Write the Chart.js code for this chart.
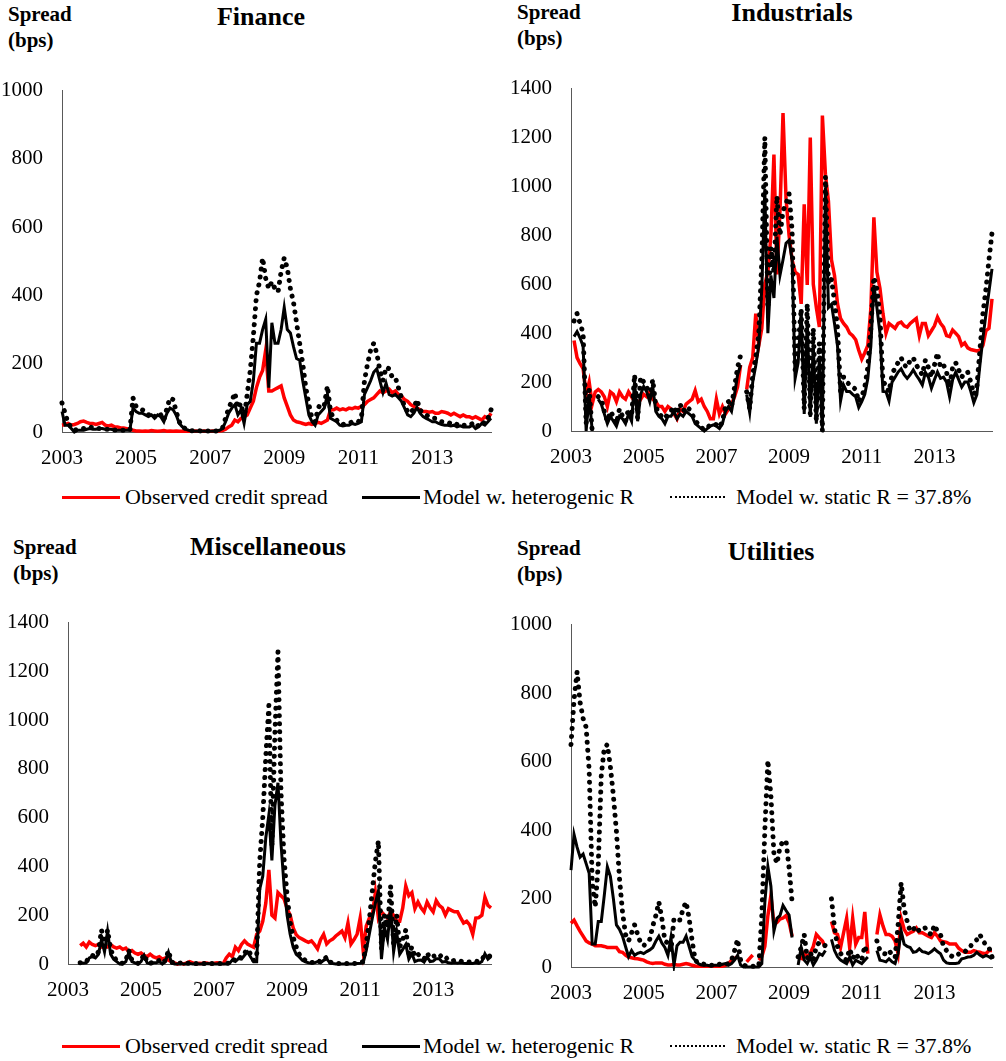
<!DOCTYPE html>
<html>
<head>
<meta charset="utf-8">
<script src="https://cdn.jsdelivr.net/npm/chart.js@4.4.0/dist/chart.umd.min.js"></script>
<style>
  body { margin: 0; background: #fff; width: 1006px; height: 1061px; position: relative; overflow: hidden;
         font-family: "Liberation Serif", "Times New Roman", serif; color: #000; }
  canvas { position: absolute; }
  .ylab { position: absolute; font-weight: bold; font-size: 21px; line-height: 26px; }
  .title { position: absolute; font-weight: bold; font-size: 26px; line-height: 30px; transform: translateX(-50%); white-space: nowrap; }
  .legend { position: absolute; left: 0; width: 1006px; height: 24px; font-size: 22px; }
  .legend span { position: absolute; top: 0; line-height: 24px; white-space: nowrap; }
  .legend i { position: absolute; top: 11px; height: 0; }
</style>
</head>
<body>

<div class="ylab" style="left:8px; top:1px;">Spread<br>(bps)</div>
<div class="title" style="left:261px; top:2px;">Finance</div>
<div class="ylab" style="left:517px; top:-1px;">Spread<br>(bps)</div>
<div class="title" style="left:792px; top:-2px;">Industrials</div>
<div class="ylab" style="left:13px; top:534px;">Spread<br>(bps)</div>
<div class="title" style="left:268px; top:532px;">Miscellaneous</div>
<div class="ylab" style="left:517px; top:535px;">Spread<br>(bps)</div>
<div class="title" style="left:771px; top:537px;">Utilities</div>

<canvas id="fin"></canvas>
<canvas id="ind"></canvas>
<canvas id="mis"></canvas>
<canvas id="uti"></canvas>

<div class="legend" style="top:485px;">
  <i style="left:62px; width:58px; border-top:3px solid #ff0000;"></i><span style="left:125px;">Observed credit spread</span>
  <i style="left:362px; width:58px; border-top:3px solid #000;"></i><span style="left:423px;">Model w. heterogenic R</span>
  <i style="left:670px; width:55px; border-top:2px dotted #000;"></i><span style="left:736px;">Model w. static R = 37.8%</span>
</div>
<div class="legend" style="top:1034px;">
  <i style="left:62px; width:58px; border-top:3px solid #ff0000;"></i><span style="left:125px;">Observed credit spread</span>
  <i style="left:362px; width:58px; border-top:3px solid #000;"></i><span style="left:423px;">Model w. heterogenic R</span>
  <i style="left:670px; width:55px; border-top:2px dotted #000;"></i><span style="left:736px;">Model w. static R = 37.8%</span>
</div>

<script>
"use strict";

// monthly, Jan 2003 .. Aug 2014
const months = [];
for (let i = 0; i < 140; i++) {
    months.push((2003 + Math.floor(i / 12)) + "-" + (i % 12 + 1));
}
const yearTicks = ["2003", "2005", "2007", "2009", "2011", "2013"];
const seriesNames = ["Observed credit spread", "Model w. heterogenic R", "Model w. static R = 37.8%"];

// Finance
const finObs = [
    20, 22, 25, 20, 22, 25, 30, 32, 28, 25, 25, 22,
    25, 28, 20, 18, 20, 15, 15, 12, 12, 10, 8, 5,
    3, 3, 2, 3, 2, 4, 3, 2, 3, 4, 2, 3,
    2, 3, 2, 2, 3, 2, 2, 3, 2, 2, 3, 2,
    2, 3, 2, 3, 4, 8, 15, 20, 35, 30, 40, 45,
    50, 70, 90, 130, 160, 180, 240, 120, 120, 125, 130, 135,
    100, 75, 50, 35, 30, 28, 25, 22, 25, 22, 25, 28,
    25, 30, 35, 65, 65, 70, 65, 68, 65, 70, 68, 72,
    70, 75, 80, 90, 95, 100, 110, 120, 115, 120, 125, 115,
    120, 110, 105, 95, 90, 80, 75, 70, 65, 60, 60, 58,
    60, 55, 55, 60, 58, 55, 50, 55, 50, 45, 50, 45,
    45, 40, 45, 40, 35, 45, 40, 55
];
const finHet = [
    60, 20, 20, 10, 0, 5, 5, 5, 8, 10, 8, 8,
    10, 10, 8, 8, 8, 5, 5, 5, 5, 5, 5, 70,
    60, 55, 55, 50, 45, 50, 40, 50, 45, 30, 55, 70,
    65, 50, 25, 15, 8, 5, 3, 2, 3, 2, 3, 2,
    2, 3, 2, 5, 10, 30, 55, 70, 80, 50, 65, 25,
    80, 90, 150, 260, 260, 300, 330, 130, 320, 260, 260, 300,
    365, 300, 290, 250, 215, 210, 150, 100, 50, 30, 20, 50,
    60, 70, 110, 40, 35, 30, 20, 18, 20, 20, 25, 22,
    25, 30, 110, 130, 150, 175, 185, 150, 115, 143, 110, 105,
    110, 100, 90, 70, 50, 45, 55, 72, 55, 45, 40, 35,
    30, 30, 25, 22, 20, 20, 18, 20, 15, 18, 15, 15,
    15, 20, 10, 15, 25, 20, 30, 40
];
const finSta = [
    85, 55, 25, 15, 5, 8, 10, 10, 12, 15, 12, 10,
    10, 10, 8, 8, 8, 6, 6, 5, 5, 5, 5, 100,
    75, 70, 65, 60, 50, 55, 45, 55, 50, 35, 70, 100,
    95, 60, 30, 15, 10, 5, 4, 3, 4, 3, 4, 3,
    3, 4, 3, 6, 12, 40, 70, 90, 115, 70, 85, 40,
    110, 180, 280, 400, 440, 510, 450, 420, 440, 420, 410, 470,
    510, 480, 420, 380, 320, 260, 200, 130, 80, 40, 30, 70,
    85, 80, 135, 60, 40, 35, 25, 22, 25, 25, 30, 28,
    30, 40, 150, 200, 240, 260, 230, 180, 150, 190, 185, 160,
    160, 130, 100, 75, 60, 55, 70, 95, 65, 55, 50, 45,
    40, 40, 35, 30, 28, 28, 25, 28, 22, 25, 20, 20,
    20, 25, 15, 20, 30, 25, 40, 65
];

// Industrials
const indObs = [
    null, 370, 300, 275, 255, 150, 200, 110, 160, 170, 160, 140,
    100, 160, 150, 120, 160, 140, 130, 160, 140, 120, 110, 130,
    150, 140, 160, 130, 120, 100, 100, 80, 100, 90, 70, 50,
    90, 80, 110, 120, 130, 165, 120, 130, 100, 80, 50, 50,
    130, 70, 100, 70, 90, 110, 140, 180, 270, null, 170, 260,
    300, 480, 350, 420, 600, 650, 800, 1130, 640, 900, 1300, 950,
    800, 700, 650, 640, 520, 927, 597, 1200, 600, 505, 425, 1290,
    1050, 940, 700, 636, 520, 460, 440, 425, 400, 390, 373, 330,
    294, 320, 350, 500, 874, 650, 584, 480, 400, 440, 430, 420,
    440, 445, 430, 425, 440, 450, 460, 390, 440, 440, 390, 410,
    430, 465, 440, 425, 390, 386, 413, 400, 386, 350, 360, 340,
    333, 330, 327, 330, 350, 410, 420, 540
];
const indHet = [
    null, 386, 406, 380, 347, 0, 150, 0, null, 130, 110, 70,
    30, 60, 40, 20, 60, 50, 30, 70, 40, 200, 40, 150,
    182, 160, 120, 180, 80, 60, 50, 30, 60, 60, 80, 50,
    70, 60, 80, 70, 60, 30, 20, 10, 0, 10, 20, 25,
    20, 10, 30, 80, 100, 80, 150, 230, 270, null, 149, 76,
    200, 268, 350, 584, 990, 400, 636, 544, 795, 637, 700, 768,
    780, 700, 215, 280, 490, 70, 450, 57, 350, 30, 300, 0,
    993, 505, 518, 439, 347, 123, 188, 162, 162, 150, 140, 96,
    120, 150, 215, 347, 597, 505, 400, 162, 160, 123, 200, 220,
    241, 254, 230, 215, 230, 250, 228, 210, 188, 240, 220, 175,
    210, 241, 215, 220, 200, 140, 210, 240, 210, 180, 200, 200,
    162, 116, 149, 268, 380, 478, 570, 663
];
const indSta = [
    null, 450, 480, 440, 400, 30, 170, 0, null, 140, 130, 80,
    40, 80, 60, 30, 90, 60, 40, 90, 60, 230, 50, 220,
    200, 180, 140, 210, 100, 70, 60, 50, 70, 80, 100, 70,
    110, 80, 100, 90, 70, 40, 30, 15, 5, 15, 25, 30,
    25, 15, 40, 100, 120, 100, 180, 260, 310, null, 160, 90,
    230, 300, 400, 700, 1200, 500, 750, 650, 960, 800, 900, 930,
    970, 820, 250, 350, 500, 90, 520, 70, 420, 40, 360, 0,
    1040, 600, 620, 530, 420, 160, 220, 200, 190, 180, 170, 120,
    140, 180, 260, 420, 630, 580, 470, 200, 190, 160, 230, 260,
    280, 300, 270, 260, 290, 300, 270, 250, 230, 290, 260, 220,
    270, 320, 260, 270, 240, 180, 260, 280, 250, 220, 240, 240,
    200, 150, 180, 330, 480, 580, 700, 810
];

// Miscellaneous
const misObs = [
    null, null, null, null, 75, 85, 70, 90, 80, 75, 80, 70,
    75, 70, 80, 70, 65, 70, 60, 65, 50, 55, 45, 40,
    45, 35, 30, 40, 30, 25, 30, 20, 25, 15, 10, 5,
    0, 5, 0, 5, 10, 5, 0, 3, 2, 5, 3, 2,
    3, 5, 3, 2, 25, 40, 30, 69, 55, 80, 95, 82,
    75, 69, 122, 135, 175, 250, 386, 200, 188, 293, 280, 267,
    227, 201, 148, 120, 108, 102, 95, 89, 95, 80, 62, 100,
    122, 82, 95, 102, 115, 125, 135, 108, 168, 82, 100, 122,
    188, 55, 155, 188, 200, 293, 188, 214, 200, 188, 214, 200,
    175, 175, 230, 320, 280, 293, 227, 254, 230, 214, 254, 230,
    214, 260, 240, 230, 201, 227, 220, 214, 214, 190, 168, 175,
    160, 122, 188, 190, 200, 274, 240, 230
];
const misHet = [
    null, null, null, null, 5, 3, 5, 25, 30, 25, 40, 100,
    50, 135, 40, 20, 10, 0, 0, 10, 48, 10, 5, 0,
    10, 35, 5, 0, 5, 5, 10, 0, 10, 48, 5, 0,
    0, 2, 0, 0, 2, 0, 0, 0, 0, 0, 2, 0,
    0, 0, 0, 0, 0, 2, 16, 10, 22, 20, 36, 49,
    29, 9, 9, 307, 360, 518, 611, 425, 650, 743, 492, 320,
    200, 122, 69, 40, 29, 15, 9, 5, 3, 5, 10, 5,
    15, 22, 5, 2, 0, 0, 0, 0, 0, 0, 0, 2,
    3, 5, 55, 122, 188, 250, 300, 20, 150, 100, 230, 50,
    130, 40, 60, 80, 20, 42, 10, 15, 16, 8, 29, 10,
    12, 22, 22, 8, 10, 5, 3, 5, 3, 5, 3, 2,
    3, 2, 5, 2, 10, 42, 20, 30
];
const misSta = [
    null, null, null, null, 5, 5, 8, 30, 35, 30, 50, 140,
    70, 140, 60, 30, 15, 5, 3, 15, 55, 15, 8, 3,
    15, 40, 8, 3, 8, 8, 15, 3, 15, 55, 8, 3,
    2, 4, 2, 2, 4, 2, 2, 2, 2, 2, 4, 2,
    2, 2, 2, 2, 2, 4, 20, 15, 28, 25, 45, 60,
    40, 15, 30, 420, 600, 850, 1060, 480, 950, 1280, 700, 430,
    280, 170, 110, 70, 40, 25, 15, 10, 6, 8, 15, 8,
    20, 28, 8, 4, 2, 2, 2, 2, 2, 2, 2, 4,
    5, 10, 80, 180, 300, 420, 505, 60, 200, 150, 320, 80,
    200, 70, 100, 140, 40, 70, 30, 40, 30, 20, 45, 25,
    30, 40, 40, 25, 30, 15, 12, 15, 10, 12, 8, 10,
    8, 10, 12, 8, 20, 35, 30, 35
];

// Utilities
const utiObs = [
    128, 137, 120, 104, 90, 76, 70, 67, 62, 62, 62, 60,
    57, 57, 57, 57, 45, 43, 35, 29, 27, 25, 24, 22,
    20, 15, 12, 10, 12, 12, 12, 8, 6, 6, 8, 6,
    6, 8, 10, 8, 5, 3, 2, 2, 2, 2, 2, 2,
    2, 2, 2, 5, 10, 20, 25, 30, null, null, 15, 25,
    35, null, 20, 30, 60, 150, 209, 124, 130, 140, 143, 150,
    130, 90, null, null, 20, 40, 30, 40, 60, 95, 85, 76,
    57, null, 133, 100, 95, 57, 100, 142, 57, 142, 67, 86,
    86, 161, 39, null, null, 95, 152, 120, 95, 95, 90, 76,
    39, 142, 110, 95, 100, 104, 114, 100, 100, 95, 90, 86,
    100, 90, 76, 74, 72, 67, 67, 67, 55, 48, 43, 43,
    43, 48, 45, 43, 40, 39, 48, 48
];
const utiHet = [
    283, 387, 350, 321, 330, 302, 274, 67, 67, 133, 133, 210,
    293, 265, 199, 123, 110, 90, 60, 30, 48, 34, 40, 43,
    39, 45, 50, 57, 75, 90, 70, 57, 34, 86, 6, 62,
    72, 72, 90, 60, 30, 20, 10, 6, 5, 5, 3, 5,
    5, 5, 8, 10, 5, 10, 20, 34, 6, 0, 0, 0,
    0, 0, 0, 10, 189, 293, 236, 105, 142, 150, 180, 165,
    152, 86, null, 6, 57, 20, 10, 29, 6, 20, 39, 34,
    48, null, 81, 48, 30, 20, 15, 10, 29, 6, 20, 15,
    10, 20, 29, null, null, 48, 20, 18, 15, 24, 15, 10,
    40, 105, 67, 60, 57, 43, 45, 53, 45, 43, 39, 45,
    53, 45, 39, 20, 12, 10, 10, 10, 12, 24, 26, 29,
    30, 34, 43, 35, 29, 34, 30, 24
];
const utiSta = [
    650, 780, 862, 773, 726, 700, 575, 250, 175, 300, 560, 640,
    650, 585, 500, 396, 260, 161, 95, 76, 100, 123, 95, 70,
    62, 72, 81, 120, 150, 190, 142, 76, 70, 48, 142, 138,
    137, 170, 190, 142, 76, 20, 12, 10, 8, 6, 5, 5,
    6, 8, 10, 8, 10, 20, 48, 81, 20, 5, 3, 2,
    2, 2, 3, 150, 400, 604, 500, 330, 302, 350, 368, 368,
    290, 189, null, 30, 57, 95, 25, 43, 20, 60, 72, 67,
    62, null, 199, 114, 60, 40, 25, 20, 53, 25, 40, 25,
    20, 62, 30, null, null, 76, 48, 40, 38, 48, 35, 28,
    123, 246, 170, 133, 104, 110, 119, 104, 110, 114, 100, 95,
    123, 104, 95, 60, 48, 36, 30, 30, 38, 43, 43, 55,
    62, 72, 80, 95, 76, 65, 57, 30
];

const font = "'Liberation Serif', 'Times New Roman', serif";

// plot boxes in page pixels
const panels = [
    { id: "fin", obs: finObs, het: finHet, sta: finSta, max: 1000, x0: 0,   left: 62,  right: 497,  top: 79,  bottom: 432 },
    { id: "ind", obs: indObs, het: indHet, sta: indSta, max: 1400, x0: 505, left: 571, right: 1005, top: 77,  bottom: 431 },
    { id: "mis", obs: misObs, het: misHet, sta: misSta, max: 1400, x0: 0,   left: 68,  right: 502,  top: 611, bottom: 964 },
    { id: "uti", obs: utiObs, het: utiHet, sta: utiSta, max: 1000, x0: 505, left: 571, right: 1005, top: 613, bottom: 967 }
];

const padTop = 20;
const xAxisH = 40;

panels.forEach(function (p) {
    const canvas = document.getElementById(p.id);
    const w = (p.x0 === 0 ? 505 : 1006 - p.x0);
    canvas.width = w;
    canvas.height = (p.bottom - p.top) + padTop + xAxisH;
    canvas.style.left = p.x0 + "px";
    canvas.style.top = (p.top - padTop) + "px";

    new Chart(canvas, {
        type: "line",
        data: {
            labels: months,
            datasets: [
                {
                    label: seriesNames[0],
                    data: p.obs,
                    borderColor: "#ff0000",
                    borderWidth: 3.5,
                    pointRadius: 0,
                    order: 3
                },
                {
                    label: seriesNames[1],
                    data: p.het,
                    borderColor: "#000000",
                    borderWidth: 3,
                    pointRadius: 0,
                    order: 2
                },
                {
                    label: seriesNames[2],
                    data: p.sta,
                    borderColor: "#000000",
                    borderWidth: 5,
                    borderDash: [0.01, 8],
                    borderCapStyle: "round",
                    pointRadius: 0,
                    order: 1
                }
            ]
        },
        options: {
            responsive: false,
            animation: false,
            events: [],
            clip: 4,
            layout: { padding: { top: padTop, right: w - (p.right - p.x0), bottom: 0, left: 0 } },
            plugins: {
                legend: { display: false },
                tooltip: { enabled: false }
            },
            scales: {
                x: {
                    grid: { display: false, drawTicks: false },
                    border: { display: true, color: "#595959", width: 1 },
                    ticks: {
                        autoSkip: false,
                        maxRotation: 0,
                        padding: 14,
                        color: "#000",
                        font: { family: font, size: 21 },
                        callback: function (v, i) {
                            return i % 24 === 0 ? yearTicks[i / 24] : "";
                        }
                    },
                    afterFit: function (scale) { scale.height = xAxisH; }
                },
                y: {
                    min: 0,
                    max: p.max,
                    grid: { display: false, drawTicks: false },
                    border: { display: true, color: "#595959", width: 1 },
                    ticks: {
                        stepSize: 200,
                        padding: 19,
                        color: "#000",
                        font: { family: font, size: 21 },
                        callback: function (v) { return String(v); }
                    },
                    afterFit: function (scale) { scale.width = p.left - p.x0; }
                }
            }
        }
    });
});
</script>
</body>
</html>
